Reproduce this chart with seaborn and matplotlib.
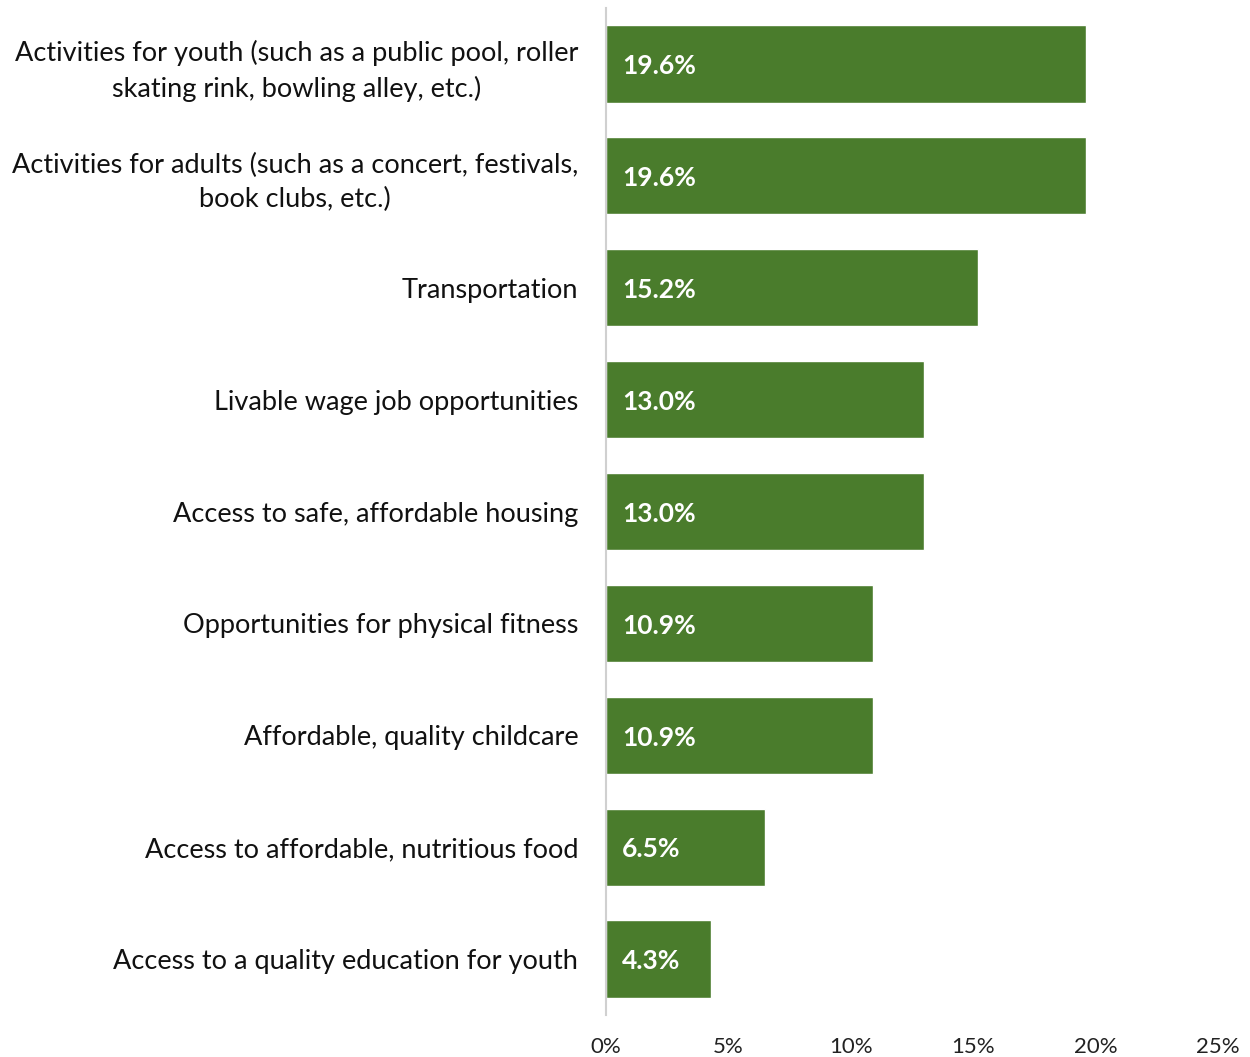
import matplotlib
matplotlib.use("Agg")
import matplotlib.pyplot as plt
import seaborn as sns
import pandas as pd
from matplotlib.ticker import FuncFormatter

categories = [
    "Activities for youth (such as a public pool, roller\nskating rink, bowling alley, etc.)",
    "Activities for adults (such as a concert, festivals,\nbook clubs, etc.)",
    "Transportation",
    "Livable wage job opportunities",
    "Access to safe, affordable housing",
    "Opportunities for physical fitness",
    "Affordable, quality childcare",
    "Access to affordable, nutritious food",
    "Access to a quality education for youth",
]
values = [19.6, 19.6, 15.2, 13.0, 13.0, 10.9, 10.9, 6.5, 4.3]
x_ticks = [0, 5, 10, 15, 20, 25]

sns.set_theme(style="white")
plt.rcParams["font.family"] = ["Lato", "DejaVu Sans"]

df = pd.DataFrame({"category": categories, "value": values})

fig = plt.figure(figsize=(12.5, 10.57), dpi=100)
ax = fig.add_axes([0.4848, 0.0397, 0.4896, 0.9527])

sns.barplot(data=df, y="category", x="value", color="#4a7c2c", saturation=1,
            width=0.69, ax=ax, orient="h")

for patch, v in zip(ax.patches, values):
    y = patch.get_y() + patch.get_height() / 2
    ax.text(0.65, y + 0.02, f"{v:.1f}%", color="white", fontweight="bold",
            fontsize=19, va="center", ha="left")

ax.set_xlim(0, 25)
ax.set_xticks(x_ticks)
ax.xaxis.set_major_formatter(FuncFormatter(lambda v, p: f"{v:.0f}%"))
ax.set_xlabel("")
ax.set_ylabel("")
ax.tick_params(axis="x", length=0, pad=16, labelsize=16, colors="#222222")
ax.tick_params(axis="y", length=0, pad=20, labelsize=19.5, colors="#111111")
for lbl in ax.get_yticklabels():
    lbl.set_multialignment("center")
    lbl.set_linespacing(1.45)

for side in ["top", "right", "bottom"]:
    ax.spines[side].set_visible(False)
ax.spines["left"].set_color("#d0d0d0")
ax.spines["left"].set_linewidth(1.5)

fig.savefig("out.png", dpi=100, facecolor="white")
